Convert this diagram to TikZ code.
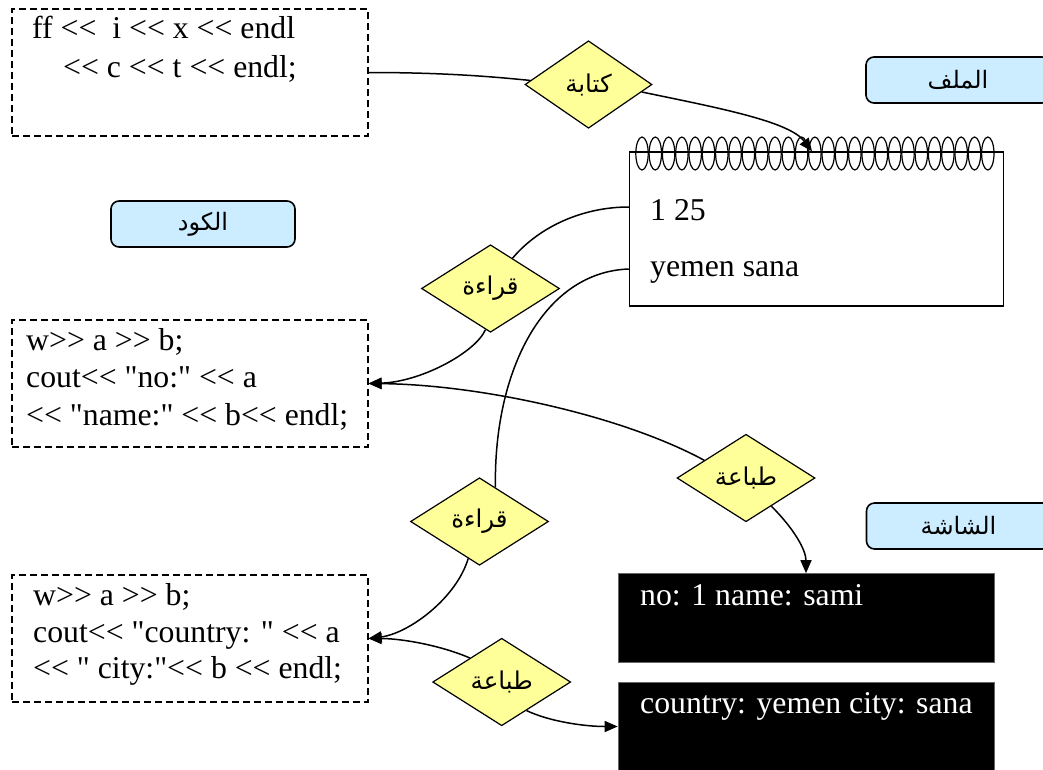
\documentclass[tikz,border=0pt]{standalone}
\usepackage{fontspec}
\usetikzlibrary{shapes.geometric,arrows.meta}
\setmainfont{Liberation Serif}
\newfontfamily\codefont{Liberation Serif}[Ligatures=TeXOff]
\newfontfamily\arabicfont[Script=Arabic]{DejaVu Sans}
\TeXXeTstate=1
\definecolor{actfill}{HTML}{FFFF99}
\definecolor{tagfill}{HTML}{CCECFF}

\begin{document}
\begin{tikzpicture}[x=1pt,y=-1pt,
  codebox/.style={draw,dash pattern=on 7pt off 4pt,line width=1.1pt,
    minimum width=356pt,minimum height=127pt,inner sep=0pt},
  codeline/.style={anchor=base west,inner sep=0pt,
    font=\codefont\fontsize{31.75}{36}\selectfont},
  tag/.style={draw,rounded corners=8pt,fill=tagfill,line width=1.6pt,
    minimum width=184pt,minimum height=46pt,inner sep=0pt,
    font=\arabicfont\fontsize{24}{28}\selectfont},
  act/.style={diamond,draw,fill=actfill,line width=1.2pt,inner sep=0pt,
    minimum width=138pt,minimum height=87.5pt,
    font=\arabicfont\fontsize{24.5}{28}\selectfont},
  screen/.style={fill=black,draw=black!60,line width=0.6pt,
    minimum width=376pt,minimum height=89pt,inner sep=0pt},
  flow/.style={line width=1.5pt},
  flowarrow/.style={line width=1.5pt,-{Triangle[length=13pt,width=11pt]}},
]
\useasboundingbox (0,0) rectangle (1043,769);
\clip (0,0) rectangle (1043,769);

% code boxes
\node[codebox] (code1) at (190,72.5) {};
\node[codebox] (code2) at (190,383.5) {};
\node[codebox] (code3) at (190,638.5) {};

\node[codeline] (c1a) at (32,38) {ff <<\ \ i << x << endl};
\node[codeline] (c1b) at (63,77) {<< c << t << endl;};

\node[codeline] (c2a) at (26,350) {w>> a >> b;};
\node[codeline] (c2b) at (26,387) {cout<< "no:" << a};
\node[codeline] (c2c) at (26,425) {<< "name:" << b<< endl;};

\node[codeline] (c3a) at (33,605) {w>> a >> b;};
\node[codeline] (c3b) at (33,642) {cout<< "country: " << a};
\node[codeline] (c3c) at (33,678) {<< " city:"<< b << endl;};

% section tags
\node[tag] (tagcode) at (203,224) {\beginR الكود\endR};
\node[tag] (tagfile) at (958,80) {\beginR الملف\endR};
\node[tag] (tagscreen) at (958.5,526) {\beginR الشاشة\endR};

% the file: a spiral notebook page
\node[draw,line width=1.5pt,minimum width=374pt,minimum height=154pt,inner sep=0pt] (note) at (816.5,229) {};
\foreach \i in {0,...,26}
  \draw[line width=1.2pt] (642+\i*13.3,153.5) ellipse [x radius=6.2pt,y radius=16.5pt];
\node[codeline] (num) at (650,220) {1 25};
\node[codeline] (place) at (650,276) {yemen sana};

% the screen
\node[screen] (scrA) at (806,618) {};
\node[screen] (scrB) at (806,726.5) {};
\node[codeline,text=white] (outA) at (640,605) {no: 1 name: sami};
\node[codeline,text=white] (outB) at (640,713) {country: yemen city: sana};

% actions
\node[act,minimum width=127pt] (kitaba) at (588.5,84.5) {\beginR كتابة\endR};
\node[act] (qiraaA) at (490.5,288.5) {\beginR قراءة\endR};
\node[act] (qiraaB) at (479.5,521.5) {\beginR قراءة\endR};
\node[act] (tibaaA) at (746,478) {\beginR طباعة\endR};
\node[act] (tibaaB) at (501.7,682) {\beginR طباعة\endR};

% writing to the file
\draw[flow] (code1.east) .. controls +(82,0) and +(-31,-3) .. (kitaba.176);
\draw[flowarrow] (kitaba.-8) .. controls +(77,16) and +(-23,-30) .. ([xshift=-4.5pt]note.north);

% first read and print
\draw[flow] ([yshift=22pt]note.west) .. controls +(-44,0) and +(28,-33) .. (qiraaA.54);
\draw[flowarrow] (qiraaA.263) .. controls +(-10,23) and +(52,-1.5) .. (code2.east);
\draw[flowarrow] (tibaaA.157) .. controls +(-83,-45) and +(111,1) .. (code2.east);
\draw[flowarrow] (tibaaA.-48) .. controls +(23,23) and +(0,-23) .. (scrA.north);

% second read and print
\draw[flow] ([yshift=-40pt]note.west) .. controls +(-85,3) and +(-2,-117) .. (qiraaB.65);
\draw[flowarrow] (qiraaB.-107) .. controls +(-12,40) and +(40,-5) .. (code3.east);
\draw[flowarrow] (tibaaB.143) .. controls +(-30,-13) and +(32,0) .. (code3.east);
\draw[flowarrow] (tibaaB.-49) .. controls +(23,11) and +(-33,0) .. (scrB.west);
\end{tikzpicture}
\end{document}
